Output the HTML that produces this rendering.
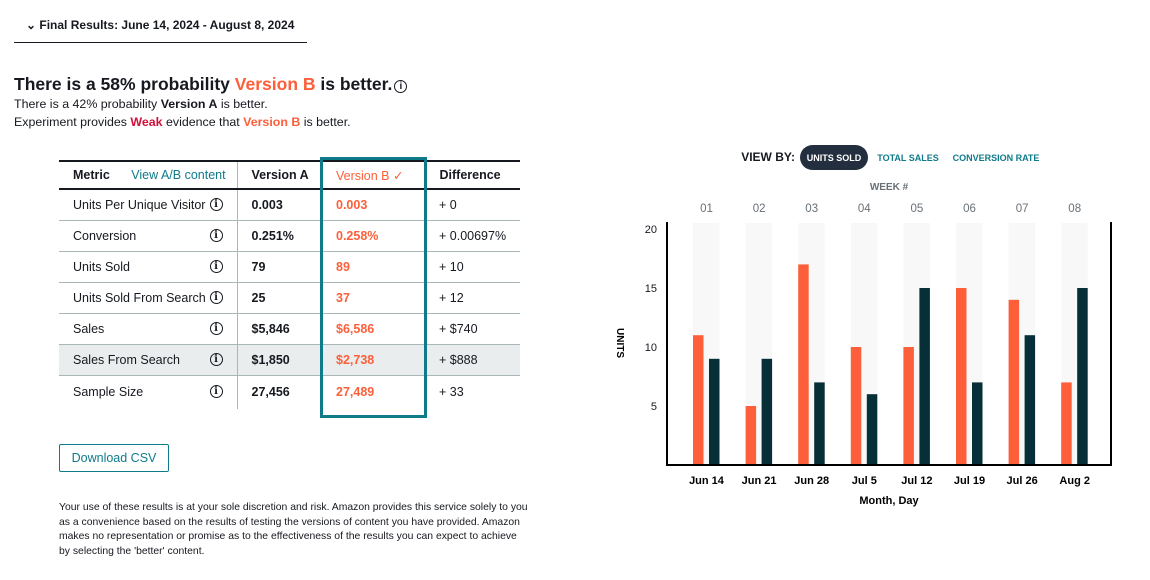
<!DOCTYPE html>
<html><head><meta charset="utf-8"><style>
body{margin:0;width:1150px;height:580px;background:#fff;font-family:"Liberation Sans",sans-serif;color:#16191f;position:relative;overflow:hidden}
.a{position:absolute;white-space:nowrap}
.o{color:#fc5f3a}
table{position:absolute;left:59px;top:160px;border-collapse:collapse;font-size:12.5px}
td{height:31px;border-bottom:1px solid #aab7b8;padding:0 0 0 14px;box-sizing:border-box}
tr:first-child td{border-top:2px solid #16191f;border-bottom:2px solid #16191f;font-weight:bold;height:28px}
td.c2{border-left:1px solid #aab7b8;font-weight:bold}
td.c3{color:#fc5f3a;font-weight:bold}
tr:last-child td{border-bottom:none;height:34px}
.i{float:right;margin-right:14px;width:13px;height:13px;border:1.5px solid #16191f;border-radius:50%;font-size:10px;line-height:11px;text-align:center;font-weight:bold;box-sizing:border-box;font-family:"DejaVu Serif",serif}
</style></head><body>
<div class="a" style="left:26px;top:18px;font-size:12px;font-weight:bold">⌄ Final Results: June 14, 2024 - August 8, 2024</div>
<div class="a" style="left:14px;top:42px;width:293px;border-top:1px solid #16191f"></div>
<div class="a" style="left:14px;top:74px;font-size:17.5px;font-weight:bold">There is a 58% probability <span class="o">Version B</span> is better.<span style="display:inline-block;width:13px;height:13px;border:1.5px solid #16191f;border-radius:50%;font-size:10px;line-height:11px;text-align:center;vertical-align:1px;margin-left:2px;box-sizing:border-box">i</span></div>
<div class="a" style="left:14px;top:97px;font-size:12.4px">There is a 42% probability <b>Version A</b> is better.</div>
<div class="a" style="left:14px;top:115px;font-size:12.4px">Experiment provides <b style="color:#d0103a">Weak</b> evidence that <b class="o">Version B</b> is better.</div>
<table>
<tr><td style="width:178px">Metric <span style="color:#0f7b8a;font-weight:normal;margin-left:18px">View A/B content</span></td><td class="c2" style="width:85px">Version A</td><td style="width:103px;color:#fc5f3a;font-weight:normal">Version B ✓</td><td style="width:95px;border-left:1px solid #aab7b8">Difference</td></tr>
<tr><td>Units Per Unique Visitor<span class="i" style="margin-right:14px">i</span></td><td class="c2">0.003</td><td class="c3">0.003</td><td>+ 0</td></tr>
<tr><td>Conversion<span class="i">i</span></td><td class="c2">0.251%</td><td class="c3">0.258%</td><td>+ 0.00697%</td></tr>
<tr><td>Units Sold<span class="i">i</span></td><td class="c2">79</td><td class="c3">89</td><td>+ 10</td></tr>
<tr><td>Units Sold From Search<span class="i" style="margin-right:14px">i</span></td><td class="c2">25</td><td class="c3">37</td><td>+ 12</td></tr>
<tr><td>Sales<span class="i">i</span></td><td class="c2">$5,846</td><td class="c3">$6,586</td><td>+ $740</td></tr>
<tr style="background:#eaeded"><td>Sales From Search<span class="i">i</span></td><td class="c2">$1,850</td><td class="c3">$2,738</td><td>+ $888</td></tr>
<tr><td>Sample Size<span class="i">i</span></td><td class="c2">27,456</td><td class="c3">27,489</td><td>+ 33</td></tr>
</table>
<div class="a" style="left:320px;top:157px;width:101px;height:255px;border:3px solid #0f7b8a"></div>
<div class="a" style="left:59px;top:444px;width:108px;height:26px;border:1px solid #0f7b8a;border-radius:2px;color:#0f7b8a;font-size:12.5px;line-height:26px;text-align:center">Download CSV</div>
<div class="a" style="left:59px;top:501px;font-size:10.4px;line-height:14.5px;white-space:normal;width:470px">Your use of these results is at your sole discretion and risk. Amazon provides this service solely to you as a convenience based on the results of testing the versions of content you have provided. Amazon makes no representation or promise as to the effectiveness of the results you can expect to achieve by selecting the 'better' content.</div>
<svg class="a" style="left:0;top:0" width="1150" height="580" font-family="Liberation Sans, sans-serif">
<text x="795" y="161" font-size="12" font-weight="bold" text-anchor="end" fill="#16191f">VIEW BY:</text>
<rect x="800" y="145" width="68" height="25" rx="12.5" fill="#232f3e"/>
<text x="834" y="161" font-size="9" font-weight="bold" text-anchor="middle" fill="#fff">UNITS SOLD</text>
<text x="908" y="161" font-size="9" font-weight="bold" text-anchor="middle" fill="#0f7b8a">TOTAL SALES</text>
<text x="996" y="161" font-size="9" font-weight="bold" text-anchor="middle" fill="#0f7b8a">CONVERSION RATE</text>
<text x="889" y="190" font-size="10" font-weight="bold" text-anchor="middle" fill="#687078">WEEK #</text>
<g id="bars"></g>
<line x1="667" y1="222" x2="667" y2="465" stroke="#000" stroke-width="2"/>
<line x1="1111" y1="222" x2="1111" y2="465" stroke="#000" stroke-width="2"/>
<line x1="666" y1="465" x2="1112" y2="465" stroke="#000" stroke-width="2"/>
<g font-size="11" fill="#16191f" text-anchor="end"><text x="657" y="233">20</text><text x="657" y="292">15</text><text x="657" y="351">10</text><text x="657" y="410">5</text></g>
<text transform="translate(617,343) rotate(90)" font-size="10" font-weight="bold" text-anchor="middle">UNITS</text>
<text x="889" y="504" font-size="11" font-weight="bold" text-anchor="middle">Month, Day</text>
</svg>
<script>
var A=[11,5,17,10,10,15,14,7],B=[9,9,7,6,15,7,11,15],d=["Jun 14","Jun 21","Jun 28","Jul 5","Jul 12","Jul 19","Jul 26","Aug 2"],s="";
for(var i=0;i<8;i++){var x=693+52.6*i;
s+='<rect x="'+x+'" y="223" width="26.5" height="242" fill="#f8f8f8"/>';
s+='<rect x="'+x+'" y="'+(465-A[i]*11.8)+'" width="10.5" height="'+A[i]*11.8+'" fill="#fc5f3a"/>';
s+='<rect x="'+(x+16)+'" y="'+(465-B[i]*11.8)+'" width="10.5" height="'+B[i]*11.8+'" fill="#062f38"/>';
s+='<text x="'+(x+13.5)+'" y="212" font-size="11.5" fill="#687078" text-anchor="middle">0'+(i+1)+'</text>';
s+='<text x="'+(x+13.5)+'" y="484" font-size="11" font-weight="bold" text-anchor="middle">'+d[i]+'</text>';}
document.getElementById("bars").innerHTML=s;
</script>
</body></html>
